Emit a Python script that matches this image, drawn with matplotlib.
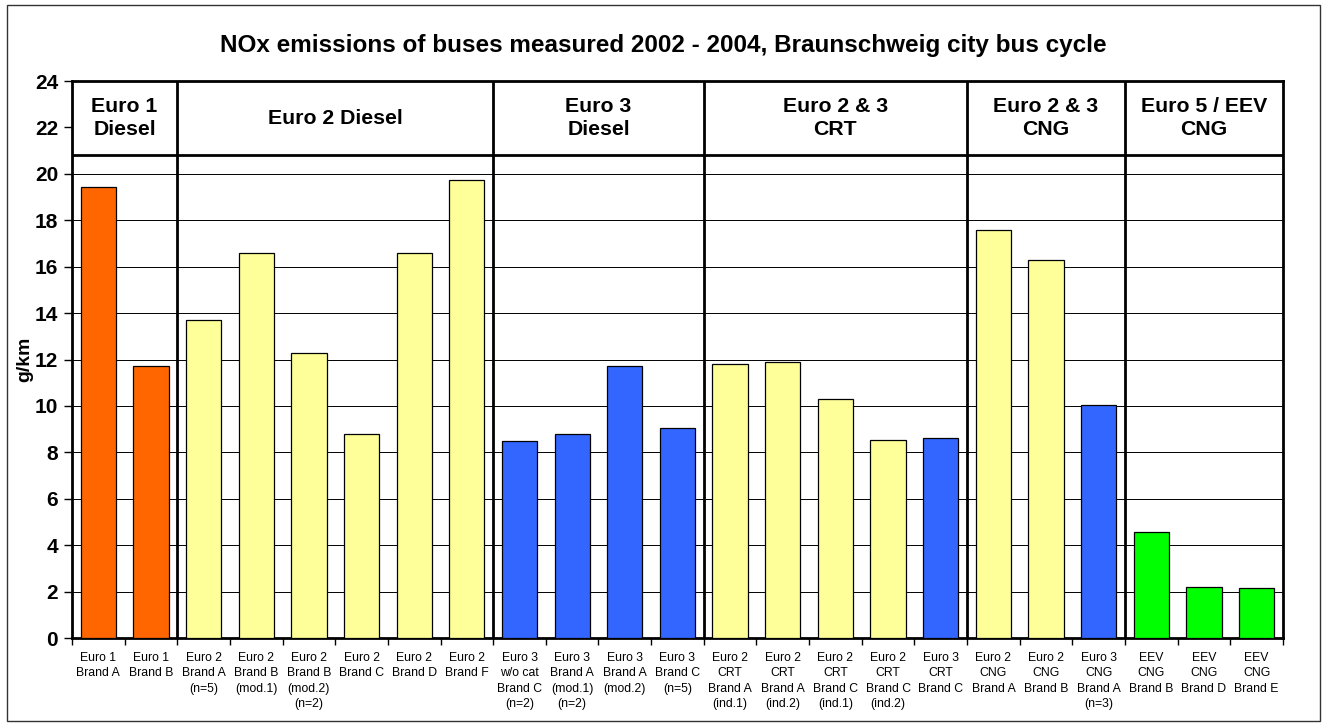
import numpy as np
import matplotlib.pyplot as plt
from matplotlib.patches import Rectangle

plt.rcParams['font.family'] = ['Liberation Sans', 'DejaVu Sans']

# bar labels, values and colours
labels = [
    "Euro 1\nBrand A", "Euro 1\nBrand B",
    "Euro 2\nBrand A\n(n=5)", "Euro 2\nBrand B\n(mod.1)", "Euro 2\nBrand B\n(mod.2)\n(n=2)",
    "Euro 2\nBrand C", "Euro 2\nBrand D", "Euro 2\nBrand F",
    "Euro 3\nw/o cat\nBrand C\n(n=2)", "Euro 3\nBrand A\n(mod.1)\n(n=2)", "Euro 3\nBrand A\n(mod.2)",
    "Euro 3\nBrand C\n(n=5)",
    "Euro 2\nCRT\nBrand A\n(ind.1)", "Euro 2\nCRT\nBrand A\n(ind.2)", "Euro 2\nCRT\nBrand C\n(ind.1)",
    "Euro 2\nCRT\nBrand C\n(ind.2)", "Euro 3\nCRT\nBrand C",
    "Euro 2\nCNG\nBrand A", "Euro 2\nCNG\nBrand B", "Euro 3\nCNG\nBrand A\n(n=3)",
    "EEV\nCNG\nBrand B", "EEV\nCNG\nBrand D", "EEV\nCNG\nBrand E",
]
nox = [19.45, 11.7,
       13.7, 16.6, 12.3, 8.8, 16.6, 19.75,
       8.5, 8.8, 11.7, 9.05,
       11.8, 11.9, 10.3, 8.55, 8.6,
       17.6, 16.3, 10.05,
       4.55, 2.2, 2.15]
colour_key = ["o", "o",
              "y", "y", "y", "y", "y", "y",
              "b", "b", "b", "b",
              "y", "y", "y", "y", "b",
              "y", "y", "b",
              "g", "g", "g"]
palette = {"o": "#FF6600", "y": "#FFFF99", "b": "#3366FF", "g": "#00FF00"}

groups = ["Euro 1\nDiesel", "Euro 2 Diesel", "Euro 3\nDiesel",
          "Euro 2 & 3\nCRT", "Euro 2 & 3\nCNG", "Euro 5 / EEV\nCNG"]
group_sizes = [2, 6, 4, 5, 3, 3]

fig = plt.figure(figsize=(13.25, 7.26), dpi=100)
ax = fig.add_axes([0.0543, 0.1212, 0.9140, 0.7672])

x = np.arange(len(nox))
ax.bar(x, nox, width=0.67, color=[palette[c] for c in colour_key],
       edgecolor="black", linewidth=0.9, zorder=3)

ax.set_xlim(-0.5, len(nox) - 0.5)
ax.set_ylim(0, 24)

header_y = 20.8
for g in range(2, 21, 2):
    ax.axhline(g, color="black", linewidth=0.7, zorder=1)
ax.axhline(header_y, color="black", linewidth=2, zorder=4)

start = 0
for name, n in zip(groups, group_sizes):
    end = start + n
    if end < len(nox):
        ax.axvline(end - 0.5, color="black", linewidth=2, zorder=4)
    ax.text((start + end - 1) / 2, (header_y + 24) / 2, name, ha="center", va="center",
            fontsize=15.3, fontweight="bold", linespacing=1.25)
    start = end

ax.set_yticks(range(0, 25, 2))
ax.set_yticklabels([str(v) for v in range(0, 25, 2)], fontsize=15, fontweight="bold")
ax.tick_params(axis="y", direction="out", length=6, width=1, pad=4)

ax.set_xticks(np.arange(len(nox) + 1) - 0.5)
ax.set_xticklabels([])
ax.tick_params(axis="x", which="major", direction="out", length=5, width=1)
ax.set_xticks(x, minor=True)
ax.set_xticklabels(labels, minor=True, fontsize=8.8, linespacing=1.38, va="top")
ax.tick_params(axis="x", which="minor", length=0, pad=10)

for s in ax.spines.values():
    s.set_linewidth(2)

ax.set_ylabel("g/km", fontsize=14, fontweight="bold", labelpad=1)
fig.text(0.5004, 0.938, "NOx emissions of buses measured 2002 - 2004, Braunschweig city bus cycle",
         ha="center", va="center", fontsize=17.5, fontweight="bold")

fig.patches.append(Rectangle((0.005, 0.007), 0.991, 0.986, transform=fig.transFigure,
                             fill=False, edgecolor="#333333", linewidth=1))

fig.savefig("out.png", dpi=100)
